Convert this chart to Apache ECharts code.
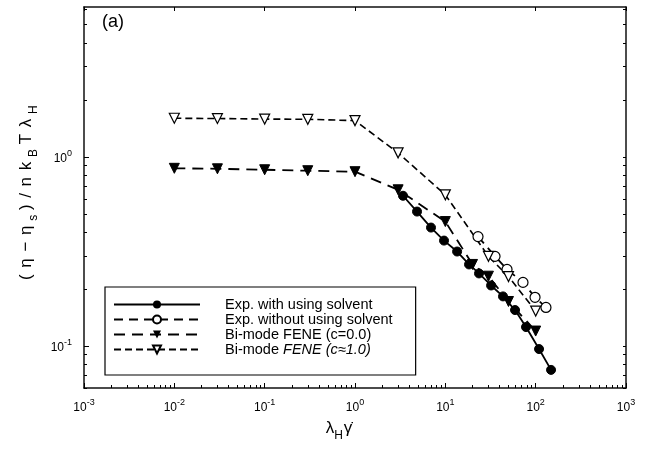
<!DOCTYPE html>
<html>
<head>
<meta charset="utf-8">
<script src="https://cdn.jsdelivr.net/npm/echarts@6/dist/echarts.min.js"></script>
<style>html,body{margin:0;padding:0;background:#fff;}#c{width:646px;height:454px;}</style>
</head>
<body>
<div id="c"></div>
<script>
// ---- data ----
var expSolventX = [3.4, 4.86, 6.94, 9.67, 13.5, 18.3, 23.6, 32.1, 43.5, 59.1, 78.2, 109, 148];
var expSolventY = [0.623, 0.514, 0.423, 0.361, 0.316, 0.270, 0.242, 0.209, 0.183, 0.155, 0.126, 0.0964, 0.0748];
var expNoSolventX = [23.0, 35.5, 48.2, 72.4, 98.4, 130];
var expNoSolventY = [0.379, 0.298, 0.254, 0.217, 0.181, 0.160];
var fene0X = [0.01, 0.03, 0.1, 0.3, 1, 3, 10, 20, 30, 50, 100];
var fene0Y = [0.87, 0.865, 0.855, 0.845, 0.835, 0.67, 0.455, 0.27, 0.234, 0.172, 0.12];
var fene1X = [0.01, 0.03, 0.1, 0.3, 1, 3, 10, 30, 50, 100];
var fene1Y = [1.60, 1.595, 1.585, 1.58, 1.555, 1.05, 0.63, 0.298, 0.233, 0.153];
var seriesNames = ['Exp. with using solvent', 'Exp. without using solvent', 'Bi-mode FENE (c=0.0)', 'Bi-mode FENE (c=1.0)'];
var xMajorTicks = [0.001, 0.01, 0.1, 1, 10, 100, 1000];
var xTickExps = ['-3', '-2', '-1', '0', '1', '2', '3'];
var yMajorTicks = [0.1, 1];
var yTickExps = ['-1', '0'];

function zip(xs, ys) { return xs.map(function (x, i) { return [x, ys[i]]; }); }
function minorTicks(lo, hi) {
  var out = [];
  for (var d = lo; d <= hi; d++) {
    for (var k = 2; k <= 9; k++) out.push(parseFloat((k * Math.pow(10, d)).toPrecision(6)));
  }
  return out;
}
var xMinor = minorTicks(-3, 2);
var yMinor = minorTicks(-2, 0).filter(function (v) { return v >= 0.06 && v <= 6.2; });

function powLabel(majors, exps) {
  return function (v) {
    for (var i = 0; i < majors.length; i++) {
      if (Math.abs(v - majors[i]) / majors[i] < 1e-6) return '{b|10}{s|' + exps[i] + '}';
    }
    return '';
  };
}
// spaced rich-text builder: parts = [[text, style], ...]
function spaced(parts) {
  var s = '';
  parts.forEach(function (p) {
    var chars = Array.from(p[0]);
    chars.forEach(function (ch) { s += '{' + p[1] + '|' + ch + '}'; });
  });
  return s;
}
var FONT = '"Liberation Sans", Arial, sans-serif';
var labelRich = {
  b: { fontSize: 12, fontFamily: FONT, color: '#000', verticalAlign: 'bottom', lineHeight: 16 },
  s: { fontSize: 9, fontFamily: FONT, color: '#000', verticalAlign: 'top', lineHeight: 16 }
};
var XMIN = 0.001, XMAX = 1000, YMIN = 0.06, YMAX = 6.2;
var axisLine = { show: true, lineStyle: { color: '#111', width: 1.5 } };

var yName = spaced([['(η−η', 't'], ['s', 'sub'], [')/nk', 't'], ['B', 'sub'], ['Tλ', 't'], ['H', 'sub']]);
var xName = '{t|λ}{sub|H}{t|γ̇}';
var nameRich = {
  t: { fontSize: 17, fontFamily: FONT, color: '#000', verticalAlign: 'bottom', lineHeight: 22, padding: [0, 3.3, 0, 3.3] },
  sub: { fontSize: 12, fontFamily: FONT, color: '#000', verticalAlign: 'bottom', lineHeight: 16, padding: [0, 1.5, -5, 1.5] }
};
var xNameRich = {
  t: { fontSize: 17, fontFamily: FONT, color: '#000', verticalAlign: 'bottom', lineHeight: 22 },
  sub: { fontSize: 12, fontFamily: FONT, color: '#000', verticalAlign: 'bottom', lineHeight: 16, padding: [0, 1, -5, 0] }
};

var chart = echarts.init(document.getElementById('c'), null, { renderer: 'canvas' });
chart.setOption({
  animation: false,
  backgroundColor: '#fff',
  grid: { left: 84, right: 20, top: 7, bottom: 66, containLabel: false },
  graphic: [{
    type: 'text', left: 102, top: 13,
    style: { text: '(a)', fontSize: 18, fontFamily: FONT, fill: '#000' }
  }],
  xAxis: [
    {
      type: 'log', logBase: 10, min: XMIN, max: XMAX, position: 'bottom',
      axisLine: axisLine, splitLine: { show: false },
      axisTick: { inside: true, length: 5, lineStyle: { color: '#000' }, customValues: xMajorTicks },
      axisLabel: { margin: 10, customValues: xMajorTicks, formatter: powLabel(xMajorTicks, xTickExps), rich: labelRich },
      name: xName, nameLocation: 'middle', nameGap: 27,
      nameTextStyle: { rich: xNameRich, padding: [0, 32, 0, 0] }
    },
    {
      type: 'log', logBase: 10, min: XMIN, max: XMAX, position: 'bottom',
      axisLine: { show: false }, splitLine: { show: false }, axisLabel: { show: false },
      axisTick: { inside: true, length: 3, lineStyle: { color: '#000' }, customValues: xMinor }
    },
    {
      type: 'log', logBase: 10, min: XMIN, max: XMAX, position: 'top',
      axisLine: axisLine, splitLine: { show: false }, axisLabel: { show: false },
      axisTick: { inside: true, length: 4, lineStyle: { color: '#000' }, customValues: xMajorTicks }
    }
  ],
  yAxis: [
    {
      type: 'log', logBase: 10, min: YMIN, max: YMAX, position: 'left',
      axisLine: axisLine, splitLine: { show: false },
      axisTick: { inside: true, length: 5, lineStyle: { color: '#000' }, customValues: yMajorTicks },
      axisLabel: { margin: 12, customValues: yMajorTicks, formatter: powLabel(yMajorTicks, yTickExps), rich: labelRich },
      name: yName, nameLocation: 'middle', nameGap: 48, nameRotate: 90,
      nameTextStyle: { rich: nameRich, padding: [0, 0, 0, 8] }
    },
    {
      type: 'log', logBase: 10, min: YMIN, max: YMAX, position: 'left',
      axisLine: { show: false }, splitLine: { show: false }, axisLabel: { show: false },
      axisTick: { inside: true, length: 3, lineStyle: { color: '#000' }, customValues: yMinor }
    },
    {
      type: 'log', logBase: 10, min: YMIN, max: YMAX, position: 'right',
      axisLine: axisLine, splitLine: { show: false }, axisLabel: { show: false },
      axisTick: { inside: true, length: 3, lineStyle: { color: '#000' }, customValues: yMinor.concat(yMajorTicks) }
    }
  ],
  legend: {
    left: 105, top: 287, orient: 'vertical',
    data: seriesNames,
    itemWidth: 86, itemHeight: 10, itemGap: 0,
    padding: [10, 23, 18, 8],
    borderColor: '#000', borderWidth: 1.2, borderRadius: 0,
    formatter: function (name) {
      if (name === seriesNames[3]) return '{n|Bi-mode }{i|FENE (c≈1.0)}';
      return '{n|' + name + '}';
    },
    textStyle: {
      fontSize: 14.5, fontFamily: FONT, color: '#000', padding: [0, 0, 0, 20], lineHeight: 13,
      rich: {
        n: { fontSize: 14.5, fontFamily: FONT, color: '#000', lineHeight: 13 },
        i: { fontSize: 14.5, fontFamily: FONT, color: '#000', lineHeight: 13, fontStyle: 'italic' }
      }
    }
  },
  series: [
    {
      name: seriesNames[0], type: 'line', data: zip(expSolventX, expSolventY),
      symbol: 'circle', symbolSize: 9, showAllSymbol: true,
      lineStyle: { color: '#000', width: 1.8, type: 'solid' },
      itemStyle: { color: '#000', borderColor: '#000' }, z: 4
    },
    {
      name: seriesNames[1], type: 'line', data: zip(expNoSolventX, expNoSolventY),
      symbol: 'circle', symbolSize: 10, showAllSymbol: true,
      lineStyle: { color: '#000', width: 1.8, type: [9, 6] },
      itemStyle: { color: '#fff', borderColor: '#000', borderWidth: 1.2 }, z: 3
    },
    {
      name: seriesNames[2], type: 'line', data: zip(fene0X, fene0Y),
      symbol: 'triangle', symbolRotate: 180, symbolSize: 10, showAllSymbol: true,
      lineStyle: { color: '#000', width: 1.8, type: [11, 7] },
      itemStyle: { color: '#000', borderColor: '#000' }, z: 3
    },
    {
      name: seriesNames[3], type: 'line', data: zip(fene1X, fene1Y),
      symbol: 'triangle', symbolRotate: 180, symbolSize: 10, showAllSymbol: true,
      lineStyle: { color: '#000', width: 1.6, type: [7, 4] },
      itemStyle: { color: '#fff', borderColor: '#000', borderWidth: 1.2 }, z: 3
    }
  ]
});
</script>
</body>
</html>
